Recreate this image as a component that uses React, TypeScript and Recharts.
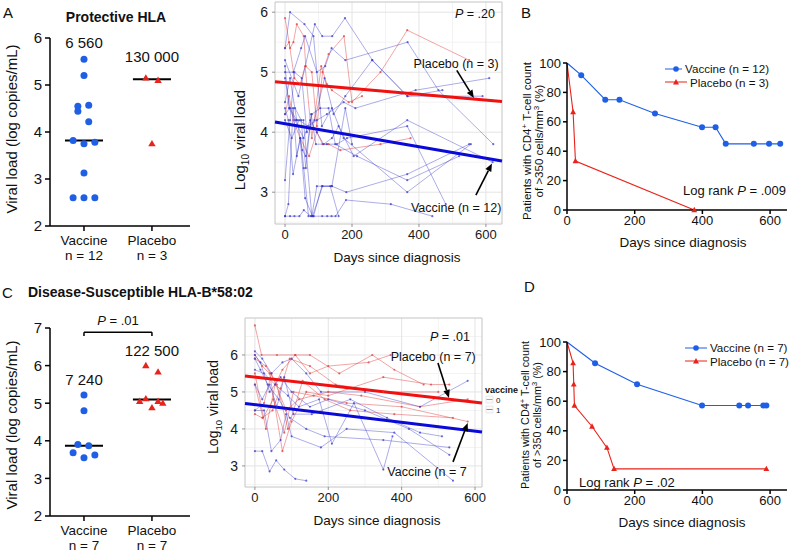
import React from 'react';
import {
  ScatterChart, Scatter, XAxis, YAxis, ReferenceLine, ReferenceDot, ReferenceArea,
  LineChart, Line, CartesianGrid, Legend,
} from 'recharts';

const FONT = '"Liberation Sans", Arial, Helvetica, sans-serif';
const BLUE = '#1f5fe6';
const RED = '#e8231b';
const SP_BLUE = '#3434c8';
const SP_RED = '#e03a3a';
const FIT_BLUE = '#0a0ad8';
const FIT_RED = '#f01010';

// ---------- Dot plots (A, C) ----------
const groupCategories = ['Vaccine', 'Placebo'];
const groupNsA = ['n = 12', 'n = 3'];
const groupNsC = ['n = 7', 'n = 7'];

const protVaccineX = [1, 1, 0.91, 0.91, 1.07, 1.07, 0.84, 1, 1.16, 1, 0.84, 1, 1.16];
const protVaccineY = [5.55, 5.2, 4.55, 4.44, 4.57, 4.22, 3.82, 3.75, 3.78, 3.13, 2.6, 2.6, 2.6];
const protPlaceboX = [1.91, 2.09, 2];
const protPlaceboY = [5.15, 5.1, 3.75];
const protMedians = [3.82, 5.12];
const protMedianLabels = ['6 560', '130 000'];
const protLabelY = [5.91, 5.6];

const suscVaccineX = [1, 1, 0.91, 1.07, 0.84, 1, 1.16];
const suscVaccineY = [5.22, 4.8, 3.9, 3.87, 3.68, 3.55, 3.62];
const suscPlaceboX = [1.91, 2.09, 1.82, 1.91, 2, 2.09, 2.16];
const suscPlaceboY = [6.0, 5.83, 5.05, 5.12, 4.88, 5.05, 5.0];
const suscMedians = [3.87, 5.1];
const suscMedianLabels = ['7 240', '122 500'];
const suscLabelY = [5.62, 6.41];

// ---------- Spaghetti plots (viral load trajectories) ----------
const protVaccinePatients: number[][][] = [
  [[0, 5.4], [15, 6.0], [58, 5.8], [85, 5.6], [110, 4.1], [140, 4.4], [175, 3.9], [365, 3.0], [555, 3.8]],
  [[0, 5.2], [40, 4.6], [89, 5.8], [111, 5.6], [141, 5.6], [179, 5.9], [261, 5.2], [366, 4.6], [470, 4.7]],
  [[0, 5.0], [25, 5.0], [48, 5.4], [60, 5.6], [95, 5.0], [120, 5.1], [139, 5.4], [180, 5.2], [366, 5.5], [458, 4.7], [622, 3.8]],
  [[0, 4.9], [14, 4.4], [30, 4.4], [48, 4.2], [62, 3.4], [78, 4.3], [92, 3.8], [125, 3.8], [155, 3.8], [185, 3.9], [365, 4.1], [480, 2.8]],
  [[0, 4.5], [15, 4.9], [35, 4.2], [55, 4.2], [80, 2.6], [95, 3.1], [140, 3.1], [183, 3.0], [365, 3.3], [550, 3.8]],
  [[0, 2.6], [15, 2.6], [28, 2.6], [43, 2.6], [56, 2.7], [77, 2.6], [85, 2.6], [111, 2.6], [126, 2.6], [139, 2.6], [151, 2.6], [182, 2.87], [316, 2.8], [440, 2.6]],
  [[0, 4.3], [14, 4.4], [35, 4.2], [52, 3.7], [62, 3.6], [80, 4.3], [105, 4.4], [130, 4.4], [150, 3.8], [215, 3.6], [365, 3.2], [520, 3.6]],
  [[0, 4.2], [20, 3.9], [42, 4.2], [68, 4.1], [95, 4.2], [125, 4.3], [175, 4.5], [210, 4.4], [390, 4.7], [610, 4.9]],
  [[0, 3.2], [15, 4.2], [28, 5.0], [50, 4.9], [65, 4.0], [88, 4.2], [118, 4.9], [145, 4.3], [180, 4.6], [260, 5.2], [365, 4.6], [590, 4.6]],
  [[0, 4.4], [10, 4.2], [24, 3.3], [45, 3.9], [60, 2.9], [82, 2.6], [112, 3.1], [135, 3.1], [160, 2.6]],
  [[0, 2.6], [10, 2.8], [24, 4.4], [35, 3.6], [46, 3.9], [56, 3.4], [70, 2.6], [85, 2.6], [110, 3.1], [140, 3.1], [180, 4.4], [200, 3.8]],
  [[0, 5.1], [12, 4.4], [30, 4.2], [55, 3.9], [75, 4.2], [95, 4.0], [115, 3.8], [140, 3.9], [160, 4.1], [205, 3.6], [365, 4.2], [620, 3.5]],
];
const protPlaceboPatients: number[][][] = [
  [[0, 5.9], [15, 5.4], [25, 5.5], [35, 5.8], [56, 5.6], [62, 5.1], [80, 5.0], [95, 4.1], [112, 5.0], [130, 5.3], [176, 5.6], [200, 4.5], [285, 5.0], [365, 5.7], [550, 5.2]],
  [[0, 5.4], [12, 5.5], [28, 4.9], [45, 4.8], [60, 5.1], [80, 3.9], [108, 5.1], [125, 4.8], [140, 4.7], [190, 4.5], [230, 4.6]],
  [[0, 4.3], [12, 4.6], [25, 4.2], [45, 3.9], [72, 3.6], [95, 4.0], [112, 3.8], [130, 3.8], [165, 3.7], [285, 3.8], [375, 3.9]],
];
const protFitVaccine = [[-30, 4.17], [648, 3.52]];
const protFitPlacebo = [[-30, 4.84], [648, 4.51]];

const suscVaccinePatients: number[][][] = [
  [[0, 6.1], [20, 5.9], [45, 5.5], [75, 5.8], [100, 5.9], [140, 5.5], [180, 5.0], [300, 5.0], [450, 4.6], [580, 5.3]],
  [[0, 5.9], [15, 5.6], [35, 5.2], [65, 4.8], [95, 4.3], [140, 4.0], [190, 3.8], [350, 3.7], [530, 3.5]],
  [[0, 5.6], [25, 5.5], [55, 5.2], [90, 4.9], [120, 4.6], [175, 4.8], [210, 3.6], [270, 4.7], [350, 2.9], [375, 3.8]],
  [[0, 5.2], [20, 4.8], [40, 5.2], [60, 4.6], [80, 5.4], [105, 4.4], [155, 4.4], [260, 4.8], [360, 4.3], [450, 3.9], [510, 3.8]],
  [[0, 4.5], [25, 4.5], [45, 3.4], [70, 3.7], [85, 4.4], [100, 3.8], [180, 3.5], [250, 4.0], [380, 3.9], [540, 2.6]],
  [[0, 3.4], [20, 3.4], [40, 2.85], [58, 3.15], [80, 2.9], [110, 2.65], [140, 2.6]],
  [[0, 6.0], [15, 5.8], [40, 5.0], [70, 5.4], [100, 5.0], [150, 4.6], [200, 4.8], [300, 4.5], [420, 4.0], [530, 3.3]],
];
const suscPlaceboPatients: number[][][] = [
  [[0, 6.8], [18, 6.0], [60, 6.0], [110, 6.0], [150, 6.0], [230, 5.5], [320, 6.0], [380, 5.6], [460, 5.2]],
  [[0, 6.0], [20, 5.7], [40, 5.5], [75, 3.4], [100, 4.2], [140, 5.0], [200, 4.9], [350, 5.4], [480, 5.2], [530, 5.2]],
  [[0, 5.5], [30, 4.0], [55, 5.2], [75, 5.6], [110, 6.0], [150, 5.5], [200, 5.7], [310, 5.8], [370, 6.0]],
  [[0, 5.2], [22, 4.3], [50, 4.8], [80, 3.9], [105, 5.0], [160, 4.9], [250, 4.7], [400, 4.6], [580, 4.2]],
  [[0, 4.5], [25, 4.7], [45, 5.5], [85, 4.5], [120, 4.8], [200, 5.0], [290, 4.9], [450, 4.6], [580, 4.8]],
  [[0, 5.9], [30, 5.7], [60, 5.2], [90, 4.0], [130, 5.3], [190, 4.8], [260, 4.5], [380, 4.4], [540, 4.3]],
  [[0, 4.4], [20, 4.3], [48, 4.5], [70, 5.1], [95, 5.9], [150, 5.7], [220, 5.2], [350, 5.0], [500, 5.0]],
];
const suscFitVaccine = [[-27, 4.69], [619, 3.92]];
const suscFitPlacebo = [[-27, 5.43], [619, 4.7]];

// ---------- Kaplan-Meier (B, D) ----------
const kmBVaccineDays = [0, 42, 113, 155, 260, 399, 439, 469, 552, 597, 630];
const kmBVaccinePct = [100, 91.7, 75, 75, 65.6, 56.3, 56.3, 45, 45, 45, 45];
const kmBPlaceboDays = [0, 18, 25, 376];
const kmBPlaceboPct = [100, 66.7, 33.3, 0];
const kmDVaccineDays = [0, 83, 207, 399, 509, 535, 580, 589];
const kmDVaccinePct = [100, 85.7, 71.4, 57.1, 57.1, 57.1, 57.1, 57.1];
const kmDPlaceboDays = [0, 18, 20, 22, 74, 118, 139, 589];
const kmDPlaceboPct = [100, 85.7, 71.4, 57.1, 42.9, 28.6, 14.3, 14.3];

// ---------- helpers ----------
type Seg = string | { it: string };

function note(key: string, x: number, y: number, parts: Seg[], size = 12.5, anchor: 'start' | 'middle' | 'end' = 'middle') {
  return (
    <ReferenceDot
      key={key}
      x={x}
      y={y}
      r={0}
      fill="none"
      stroke="none"
      ifOverflow="visible"
      label={{
        content: (p: any) => {
          const vb = p.viewBox || {};
          const cx = (vb.x ?? 0) + (vb.width ?? 0) / 2;
          const cy = (vb.y ?? 0) + (vb.height ?? 0) / 2;
          return (
            <text x={cx} y={cy} dy="0.36em" textAnchor={anchor} fontSize={size} fontFamily={FONT} fill="#111">
              {parts.map((s, j) =>
                typeof s === 'string' ? <tspan key={j}>{s}</tspan> : <tspan key={j} fontStyle="italic">{s.it}</tspan>
              )}
            </text>
          );
        },
      }}
    />
  );
}

const Arrow = (props: any) => {
  const { x1, y1, x2, y2 } = props;
  const a = Math.atan2(y2 - y1, x2 - x1);
  const L = 8;
  const W = 3.3;
  const bx = x2 - L * Math.cos(a);
  const by = y2 - L * Math.sin(a);
  const pts = `${x2},${y2} ${bx + W * Math.sin(a)},${by - W * Math.cos(a)} ${bx - W * Math.sin(a)},${by + W * Math.cos(a)}`;
  return (
    <g>
      <line x1={x1} y1={y1} x2={bx} y2={by} stroke="#000" strokeWidth={1.6} />
      <polygon points={pts} fill="#000" />
    </g>
  );
};

function arrow(key: string, from: number[], to: number[]) {
  return (
    <ReferenceLine
      key={key}
      segment={[{ x: from[0], y: from[1] }, { x: to[0], y: to[1] }]}
      ifOverflow="visible"
      shape={Arrow}
    />
  );
}

const CatTick = (props: any) => {
  const { x, y, payload, ns } = props;
  const i = Math.round(payload.value) - 1;
  return (
    <g>
      <text x={x} y={y + 12} textAnchor="middle" fontSize={13.5} fontFamily={FONT} fill="#111">{groupCategories[i]}</text>
      <text x={x} y={y + 27} textAnchor="middle" fontSize={13.5} fontFamily={FONT} fill="#111">{ns[i]}</text>
    </g>
  );
};

const circleShape = (p: any) => <circle cx={p.cx} cy={p.cy} r={3.5} fill={BLUE} />;
const triShape = (p: any) => (
  <polygon points={`${p.cx},${p.cy - 3.8} ${p.cx + 3.7},${p.cy + 2.6} ${p.cx - 3.7},${p.cy + 2.6}`} fill={RED} />
);

const axisBlack = { stroke: '#000', strokeWidth: 1.5 };

function DotPlot(props: any) {
  const { vx, vy, px, py, medians, labels, labelY, ns, yMax, marginTop, xAxisHeight, bracket, height, marginBottom } = props;
  const vData = vx.map((x: number, i: number) => ({ x, y: vy[i] }));
  const pData = px.map((x: number, i: number) => ({ x, y: py[i] }));
  const yTicks = [];
  for (let t = 2; t <= yMax; t++) yTicks.push(t);
  return (
    <ScatterChart width={200} height={height} margin={{ top: marginTop, right: 10, bottom: marginBottom, left: 0 }}>
      <XAxis
        type="number" dataKey="x" domain={[0.5, 2.56]} ticks={[1, 2]} height={xAxisHeight}
        axisLine={axisBlack} tickLine={axisBlack} tickSize={5} tick={<CatTick ns={ns} />}
      />
      <YAxis
        type="number" dataKey="y" domain={[2, yMax]} ticks={yTicks} width={50}
        axisLine={axisBlack} tickLine={axisBlack} tickSize={5} tickMargin={3}
        tick={{ fontSize: 15, fill: '#111', fontFamily: FONT }}
      />
      <Scatter data={vData} shape={circleShape} isAnimationActive={false} />
      <Scatter data={pData} shape={triShape} isAnimationActive={false} />
      {medians.map((m: number, i: number) => (
        <ReferenceLine key={'m' + i} segment={[{ x: i + 1 - 0.28, y: m }, { x: i + 1 + 0.28, y: m }]} stroke="#000" strokeWidth={2} ifOverflow="visible" />
      ))}
      {labels.map((l: string, i: number) => note('l' + i, i + 1, labelY[i], [l], 15))}
      {bracket && (
        <ReferenceLine segment={[{ x: 1, y: bracket.y }, { x: 2, y: bracket.y }]} stroke="#000" strokeWidth={1.5} ifOverflow="visible" />
      )}
      {bracket && (
        <ReferenceLine segment={[{ x: 1, y: bracket.y }, { x: 1, y: bracket.y - 0.1 }]} stroke="#000" strokeWidth={1.5} ifOverflow="visible" />
      )}
      {bracket && (
        <ReferenceLine segment={[{ x: 2, y: bracket.y }, { x: 2, y: bracket.y - 0.1 }]} stroke="#000" strokeWidth={1.5} ifOverflow="visible" />
      )}
      {bracket && note('pb', 1.5, bracket.y + 0.32, [{ it: 'P' }, ' = .01'], 13)}
    </ScatterChart>
  );
}

const toPts = (arr: number[][]) => arr.map(([d, v]) => ({ d, v }));

function Spaghetti(props: any) {
  const { width, height, margin, vaccine, placebo, fitV, fitP, xDomain, yDomain, yTicks, minorY, notes, arrows } = props;
  const gridTick = { stroke: '#777', strokeWidth: 0.8 };
  return (
    <LineChart width={width} height={height} margin={margin}>
      <CartesianGrid stroke="#f3f3f3" horizontalValues={minorY} verticalValues={[100, 300, 500]} />
      <CartesianGrid stroke="#e4e4e4" horizontalValues={yTicks} verticalValues={[0, 200, 400, 600]} />
      <XAxis
        type="number" dataKey="d" domain={xDomain} ticks={[0, 200, 400, 600]} height={20}
        axisLine={false} tickLine={gridTick} tickSize={3} tickMargin={3}
        tick={{ fontSize: 13, fill: '#1a1a1a', fontFamily: FONT }}
      />
      <YAxis
        type="number" dataKey="v" domain={yDomain} ticks={yTicks} width={50}
        axisLine={false} tickLine={gridTick} tickSize={3} tickMargin={4}
        tick={{ fontSize: 14, fill: '#1a1a1a', fontFamily: FONT }}
      />
      <ReferenceArea x1={xDomain[0]} x2={xDomain[1]} y1={yDomain[0]} y2={yDomain[1]} fill="none" stroke="#c4c4c4" strokeWidth={1} ifOverflow="visible" />
      {placebo.map((p: number[][], i: number) => (
        <Line key={'p' + i} data={toPts(p)} dataKey="v" stroke={SP_RED} strokeOpacity={0.5} strokeWidth={0.9}
          dot={{ r: 1.1, fill: SP_RED, stroke: 'none', fillOpacity: 0.7 }} activeDot={false} isAnimationActive={false} />
      ))}
      {vaccine.map((p: number[][], i: number) => (
        <Line key={'v' + i} data={toPts(p)} dataKey="v" stroke={SP_BLUE} strokeOpacity={0.45} strokeWidth={0.9}
          dot={{ r: 1.1, fill: SP_BLUE, stroke: 'none', fillOpacity: 0.7 }} activeDot={false} isAnimationActive={false} />
      ))}
      <Line data={toPts(fitP)} dataKey="v" stroke={FIT_RED} strokeWidth={3} dot={false} activeDot={false} isAnimationActive={false} />
      <Line data={toPts(fitV)} dataKey="v" stroke={FIT_BLUE} strokeWidth={3} dot={false} activeDot={false} isAnimationActive={false} />
      {notes.map((n: any, i: number) => note('n' + i, n.x, n.y, n.parts, n.size ?? 12.5, n.anchor ?? 'middle'))}
      {arrows.map((a: any, i: number) => arrow('a' + i, a[0], a[1]))}
    </LineChart>
  );
}

const kmLegend = (items: any[]) => () => (
  <div style={{ fontFamily: FONT, fontSize: 11.6, color: '#111', whiteSpace: 'nowrap' }}>
    {items.map((it, i) => (
      <div key={i} style={{ display: 'flex', alignItems: 'center', height: 13.5 }}>
        <svg width={22} height={10} style={{ marginRight: 3 }}>
          <line x1={0} y1={5} x2={22} y2={5} stroke={it.color} strokeWidth={1} />
          {it.tri ? (
            <polygon points="11,2 14,7.5 8,7.5" fill={it.color} />
          ) : (
            <circle cx={11} cy={5} r={2.8} fill={it.color} />
          )}
        </svg>
        <span>{it.label}</span>
      </div>
    ))}
  </div>
);

const kmDot = (p: any) =>
  p.index === 0 ? <g key={'d' + p.index} /> : <circle key={'d' + p.index} cx={p.cx} cy={p.cy} r={3} fill={BLUE} />;
const kmTri = (p: any) =>
  p.index === 0 ? (
    <g key={'t' + p.index} />
  ) : (
    <polygon key={'t' + p.index} points={`${p.cx},${p.cy - 3.2} ${p.cx + 2.9},${p.cy + 2.2} ${p.cx - 2.9},${p.cy + 2.2}`} fill={RED} />
  );

function KM(props: any) {
  const { vDays, vPct, pDays, pPct, vLabel, pLabel, top, legendLeft, legendTop, noteProps } = props;
  const v = vDays.map((d: number, i: number) => ({ d, p: vPct[i] }));
  const p = pDays.map((d: number, i: number) => ({ d, p: pPct[i] }));
  return (
    <LineChart width={272} height={270} margin={{ top, right: 2, bottom: 35, left: 0 }}>
      <XAxis
        type="number" dataKey="d" domain={[0, 650]} ticks={[0, 200, 400, 600]} height={25}
        axisLine={axisBlack} tickLine={axisBlack} tickSize={4} tickMargin={2}
        tick={{ fontSize: 13, fill: '#111', fontFamily: FONT }}
      />
      <YAxis
        type="number" dataKey="p" domain={[0, 100]} ticks={[0, 20, 40, 60, 80, 100]} width={50}
        axisLine={axisBlack} tickLine={axisBlack} tickSize={4} tickMargin={2}
        tick={{ fontSize: 13, fill: '#111', fontFamily: FONT }}
      />
      <Line data={v} dataKey="p" stroke={BLUE} strokeWidth={1.1} dot={kmDot} activeDot={false} isAnimationActive={false} />
      <Line data={p} dataKey="p" stroke={RED} strokeWidth={1.1} dot={kmTri} activeDot={false} isAnimationActive={false} />
      <Legend
        layout="vertical" align="center" verticalAlign="middle"
        wrapperStyle={{ left: legendLeft, top: legendTop, width: 104 }}
        content={kmLegend([
          { label: vLabel, color: BLUE },
          { label: pLabel, color: RED, tri: true },
        ])}
      />
      {note('km', noteProps.x, noteProps.y, noteProps.parts, 13, noteProps.anchor)}
    </LineChart>
  );
}

const Overlay = () => {
  const t = { fontFamily: FONT, fill: '#111' } as any;
  return (
    <svg width={789} height={557} style={{ position: 'absolute', left: 0, top: 0, pointerEvents: 'none' }}>
      <text {...t} x={3} y={18} fontSize={15}>A</text>
      <text {...t} x={116} y={22} fontSize={14} fontWeight="bold" textAnchor="middle">Protective HLA</text>
      <text {...t} transform="translate(12,129) rotate(-90)" textAnchor="middle" dy="0.35em" fontSize={15}>Viral load (log copies/mL)</text>

      <text {...t} transform="translate(240,140) rotate(-90)" textAnchor="middle" dy="0.35em" fontSize={15}>
        Log<tspan dy={4} fontSize={10}>10</tspan><tspan dy={-4}> viral load</tspan>
      </text>
      <text {...t} x={397} y={262} fontSize={13.5} textAnchor="middle">Days since diagnosis</text>

      <text {...t} x={521} y={18} fontSize={15}>B</text>
      <text {...t} transform="translate(527,141) rotate(-90)" textAnchor="middle" dy="0.35em" fontSize={11.5}>
        Patients with CD4<tspan dy={-4} fontSize={8}>+</tspan><tspan dy={4}> T-cell count</tspan>
      </text>
      <text {...t} transform="translate(539,141) rotate(-90)" textAnchor="middle" dy="0.35em" fontSize={11.5}>
        of &gt;350 cells/mm<tspan dy={-4} fontSize={8}>3</tspan><tspan dy={4}> (%)</tspan>
      </text>
      <text {...t} x={683} y={247} fontSize={13.5} textAnchor="middle">Days since diagnosis</text>

      <text {...t} x={2} y={298} fontSize={15}>C</text>
      <text {...t} x={28} y={297} fontSize={14} fontWeight="bold">Disease-Susceptible HLA-B*58:02</text>
      <text {...t} transform="translate(12,425) rotate(-90)" textAnchor="middle" dy="0.35em" fontSize={15}>Viral load (log copies/mL)</text>

      <text {...t} transform="translate(213,407) rotate(-90)" textAnchor="middle" dy="0.35em" fontSize={14}>
        Log<tspan dy={4} fontSize={9.5}>10</tspan><tspan dy={-4}> viral load</tspan>
      </text>
      <text {...t} x={377} y={525} fontSize={13.5} textAnchor="middle">Days since diagnosis</text>
      <text {...t} x={485} y={393} fontSize={9} fontWeight="bold">vaccine</text>
      <rect x={486} y={396} width={7} height={7} fill="#fafafa" stroke="#ddd" strokeWidth={0.6} />
      <line x1={486.5} y1={399.5} x2={492.5} y2={399.5} stroke={SP_RED} strokeOpacity={0.6} />
      <text {...t} x={496} y={402.5} fontSize={8}>0</text>
      <rect x={486} y={406} width={7} height={7} fill="#fafafa" stroke="#ddd" strokeWidth={0.6} />
      <line x1={486.5} y1={409.5} x2={492.5} y2={409.5} stroke={SP_BLUE} strokeOpacity={0.6} />
      <text {...t} x={496} y={412.5} fontSize={8}>1</text>

      <text {...t} x={524} y={292} fontSize={15}>D</text>
      <text {...t} transform="translate(525,415) rotate(-90)" textAnchor="middle" dy="0.35em" fontSize={10.8}>
        Patients with CD4<tspan dy={-4} fontSize={7.5}>+</tspan><tspan dy={4}> T-cell count</tspan>
      </text>
      <text {...t} transform="translate(537,415) rotate(-90)" textAnchor="middle" dy="0.35em" fontSize={10.8}>
        of &gt;350 cells/mm<tspan dy={-4} fontSize={7.5}>3</tspan><tspan dy={4}> (%)</tspan>
      </text>
      <text {...t} x={682} y={527} fontSize={13.5} textAnchor="middle">Days since diagnosis</text>
    </svg>
  );
};

export default function App() {
  const abs = (left: number, top: number): React.CSSProperties => ({ position: 'absolute', left, top });
  return (
    <div style={{ position: 'absolute', left: 0, top: 0, width: 789, height: 557, background: '#fff', overflow: 'hidden', fontFamily: FONT }}>
      <div style={abs(0, 0)}>
        <DotPlot vx={protVaccineX} vy={protVaccineY} px={protPlaceboX} py={protPlaceboY}
          medians={protMedians} labels={protMedianLabels} labelY={protLabelY} ns={groupNsA}
          yMax={6} marginTop={38} xAxisHeight={44} height={272} marginBottom={2} />
      </div>
      <div style={abs(225, 0)}>
        <Spaghetti width={290} height={270} margin={{ top: 2, right: 13, bottom: 26, left: 0 }}
          vaccine={protVaccinePatients} placebo={protPlaceboPatients} fitV={protFitVaccine} fitP={protFitPlacebo}
          xDomain={[-30, 648]} yDomain={[2.47, 6.17]} yTicks={[3, 4, 5, 6]} minorY={[2.5, 3.5, 4.5, 5.5]}
          notes={[
            { x: 627, y: 5.98, parts: [{ it: 'P' }, ' = .20'], anchor: 'end' },
            { x: 511, y: 5.15, parts: ['Placebo (n = 3)'] },
            { x: 511, y: 2.75, parts: ['Vaccine (n = 12)'] },
          ]}
          arrows={[
            [[513, 5.03], [564, 4.57]],
            [[570, 2.95], [618, 3.48]],
          ]} />
      </div>
      <div style={abs(517, 0)}>
        <KM vDays={kmBVaccineDays} vPct={kmBVaccinePct} pDays={kmBPlaceboDays} pPct={kmBPlaceboPct}
          vLabel="Vaccine (n = 12)" pLabel="Placebo (n = 3)" top={63} legendLeft={148} legendTop={62}
          noteProps={{ x: 647, y: 13.6, parts: ['Log rank ', { it: 'P' }, ' = .009'], anchor: 'end' }} />
      </div>

      <div style={abs(0, 280)}>
        <DotPlot vx={suscVaccineX} vy={suscVaccineY} px={suscPlaceboX} py={suscPlaceboY}
          medians={suscMedians} labels={suscMedianLabels} labelY={suscLabelY} ns={groupNsC}
          yMax={7} marginTop={48} xAxisHeight={34} bracket={{ y: 6.89 }} height={277} marginBottom={7} />
      </div>
      <div style={abs(195, 280)}>
        <Spaghetti width={300} height={270} margin={{ top: 38, right: 13, bottom: 43, left: 0 }}
          vaccine={suscVaccinePatients} placebo={suscPlaceboPatients} fitV={suscFitVaccine} fitP={suscFitPlacebo}
          xDomain={[-27, 619]} yDomain={[2.43, 7.0]} yTicks={[3, 4, 5, 6]} minorY={[2.5, 3.5, 4.5, 5.5, 6.5]}
          notes={[
            { x: 586, y: 6.49, parts: [{ it: 'P' }, ' = .01'], anchor: 'end' },
            { x: 486, y: 5.95, parts: ['Placebo (n = 7)'] },
            { x: 469, y: 2.84, parts: ['Vaccine (n = 7'] },
          ]}
          arrows={[
            [[499, 5.78], [529, 4.84]],
            [[540, 3.11], [580, 4.16]],
          ]} />
      </div>
      <div style={abs(517, 280)}>
        <KM vDays={kmDVaccineDays} vPct={kmDVaccinePct} pDays={kmDPlaceboDays} pPct={kmDPlaceboPct}
          vLabel="Vaccine (n = 7)" pLabel="Placebo (n = 7)" top={62} legendLeft={168} legendTop={61}
          noteProps={{ x: 177, y: 5.4, parts: ['Log rank ', { it: 'P' }, ' = .02'], anchor: 'middle' }} />
      </div>
      <Overlay />
    </div>
  );
}
